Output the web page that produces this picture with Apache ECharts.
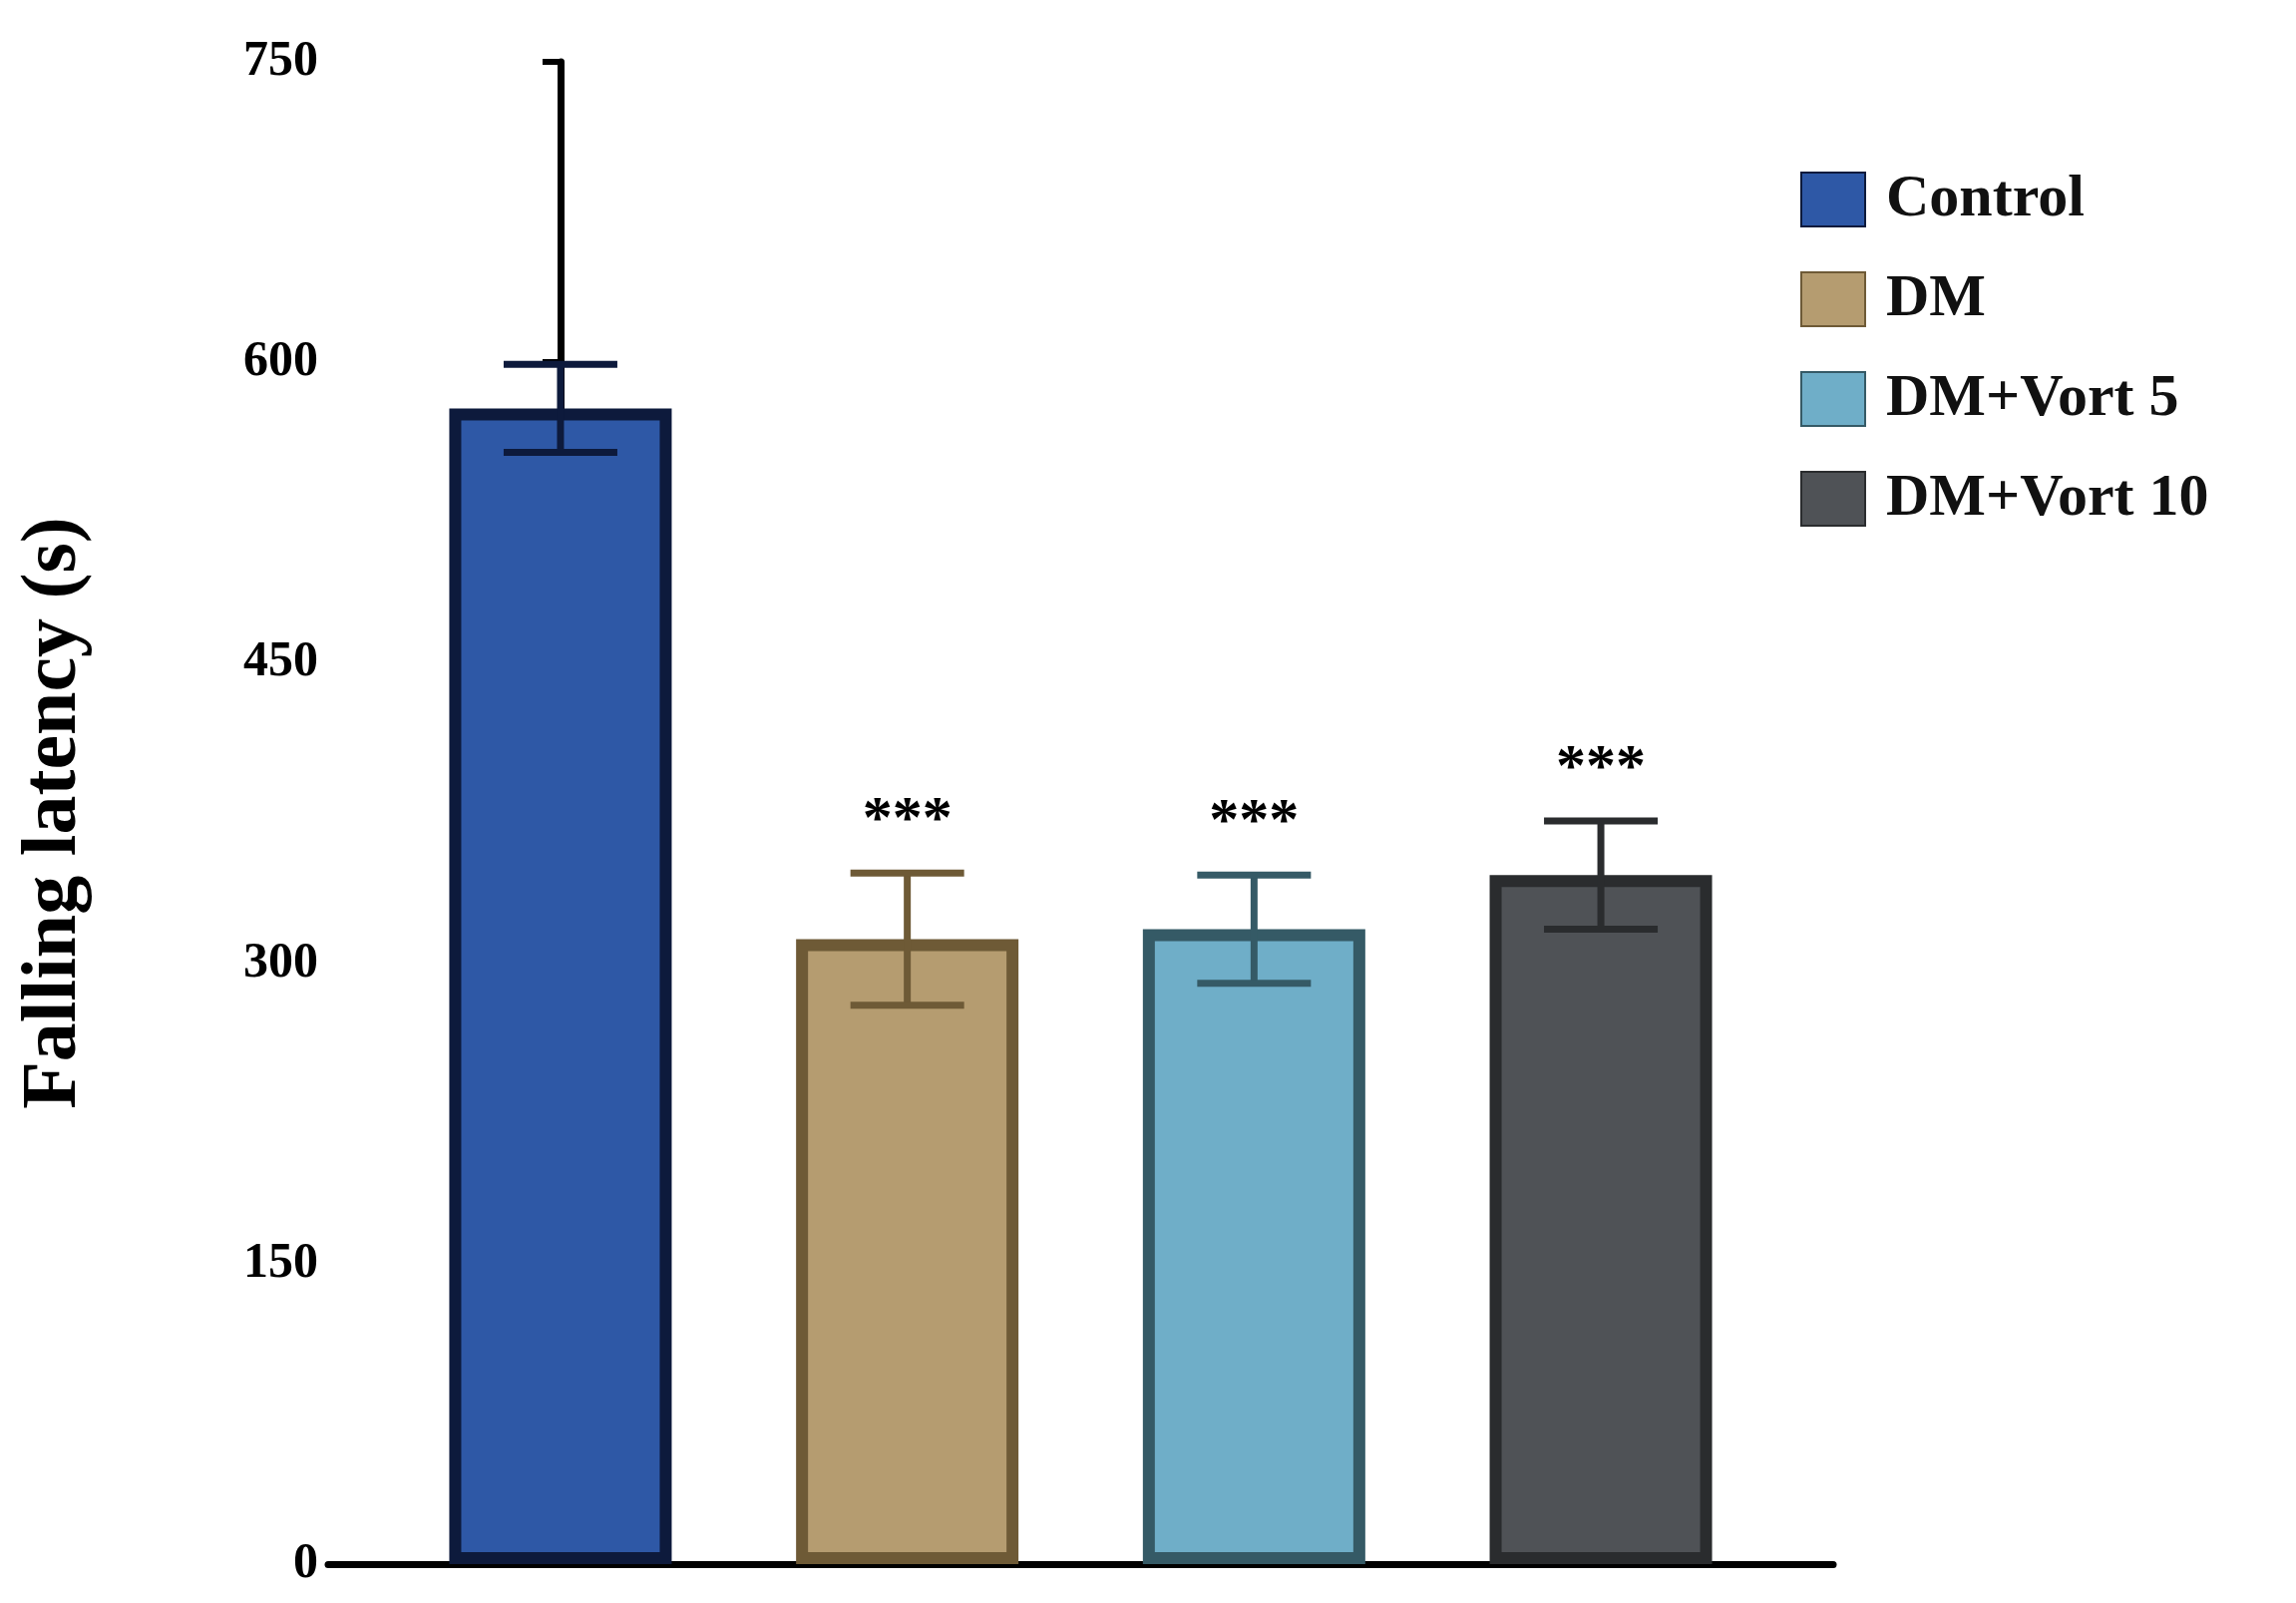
<!DOCTYPE html>
<html>
<head>
<meta charset="utf-8">
<script src="https://cdn.jsdelivr.net/npm/echarts@6/dist/echarts.min.js"></script>
<style>html,body{margin:0;padding:0;background:#fff;}#chart{width:2302px;height:1607px;}</style>
</head>
<body>
<div id="chart"></div>
<script>
// 数据
const groups = ['Control', 'DM', 'DM+Vort 5', 'DM+Vort 10'];
const means = [577, 312, 317, 344];
const errors = [22, 33, 27, 27];
const marks = ['', '***', '***', '***'];
const yTicks = [0, 150, 300, 450, 600, 750];

const fills = ['#2E58A6', '#B59C70', '#6FAEC8', '#4F5256'];
const borders = ['#0D1A3C', '#6E5A36', '#355A66', '#2A2C2E'];
const font = '"Liberation Serif", "DejaVu Serif", serif';

const chart = echarts.init(document.getElementById('chart'));

const barSeries = groups.map((g, i) => ({
  name: g,
  type: 'bar',
  barWidth: 223,
  barGap: '-100%',
  data: [[i, means[i]]],
  itemStyle: { color: fills[i], borderColor: borders[i], borderWidth: 12 }
}));

const errSeries = {
  type: 'custom',
  silent: true,
  z: 5,
  data: means.map((m, i) => [i, m, errors[i]]),
  renderItem: (params, api) => {
    const i = api.value(0);
    const top = api.coord([i, api.value(1) + api.value(2)]);
    const bot = api.coord([i, api.value(1) - api.value(2)]);
    const half = 57;
    const style = { stroke: borders[i], lineWidth: 7 };
    const children = [
      { type: 'line', shape: { x1: top[0], y1: top[1], x2: bot[0], y2: bot[1] }, style },
      { type: 'line', shape: { x1: top[0] - half, y1: top[1], x2: top[0] + half, y2: top[1] }, style },
      { type: 'line', shape: { x1: bot[0] - half, y1: bot[1], x2: bot[0] + half, y2: bot[1] }, style }
    ];
    if (marks[i]) {
      children.push({
        type: 'text',
        style: { text: marks[i], x: top[0], y: top[1] - 22, align: 'center', verticalAlign: 'bottom',
          fill: '#000', font: 'bold 60px ' + font }
      });
    }
    return { type: 'group', children };
  }
};

chart.setOption({
  backgroundColor: '#fff',
  animation: false,
  grid: { left: 329, right: 464, top: 62, bottom: 39 },
  legend: {
    orient: 'vertical',
    left: 1800,
    top: 165,
    itemWidth: 64,
    itemHeight: 54,
    itemGap: 40,
    icon: 'rect',
    textStyle: { fontFamily: font, fontWeight: 'bold', fontSize: 60, color: '#111', padding: [0, 0, 0, 16] },
    data: groups
  },
  xAxis: {
    type: 'value',
    min: -0.67,
    max: 3.67,
    axisLine: { lineStyle: { color: '#000', width: 7 } },
    axisTick: { show: false },
    axisLabel: { show: false },
    splitLine: { show: false }
  },
  yAxis: {
    type: 'value',
    min: 0,
    max: 750,
    interval: 150,
    name: 'Falling latency (s)',
    nameLocation: 'middle',
    nameGap: 235,
    nameTextStyle: { fontFamily: font, fontWeight: 'bold', fontSize: 78, color: '#000' },
    axisLine: { show: true, lineStyle: { color: '#000', width: 7 } },
    axisTick: { show: true, length: 18, lineStyle: { color: '#000', width: 6 } },
    axisLabel: {
      fontFamily: font, fontWeight: 'bold', fontSize: 50, color: '#000', margin: 10,
      formatter: v => yTicks.includes(v) ? String(v) : ''
    },
    splitLine: { show: false }
  },
  series: [...barSeries, errSeries]
});
</script>
</body>
</html>
